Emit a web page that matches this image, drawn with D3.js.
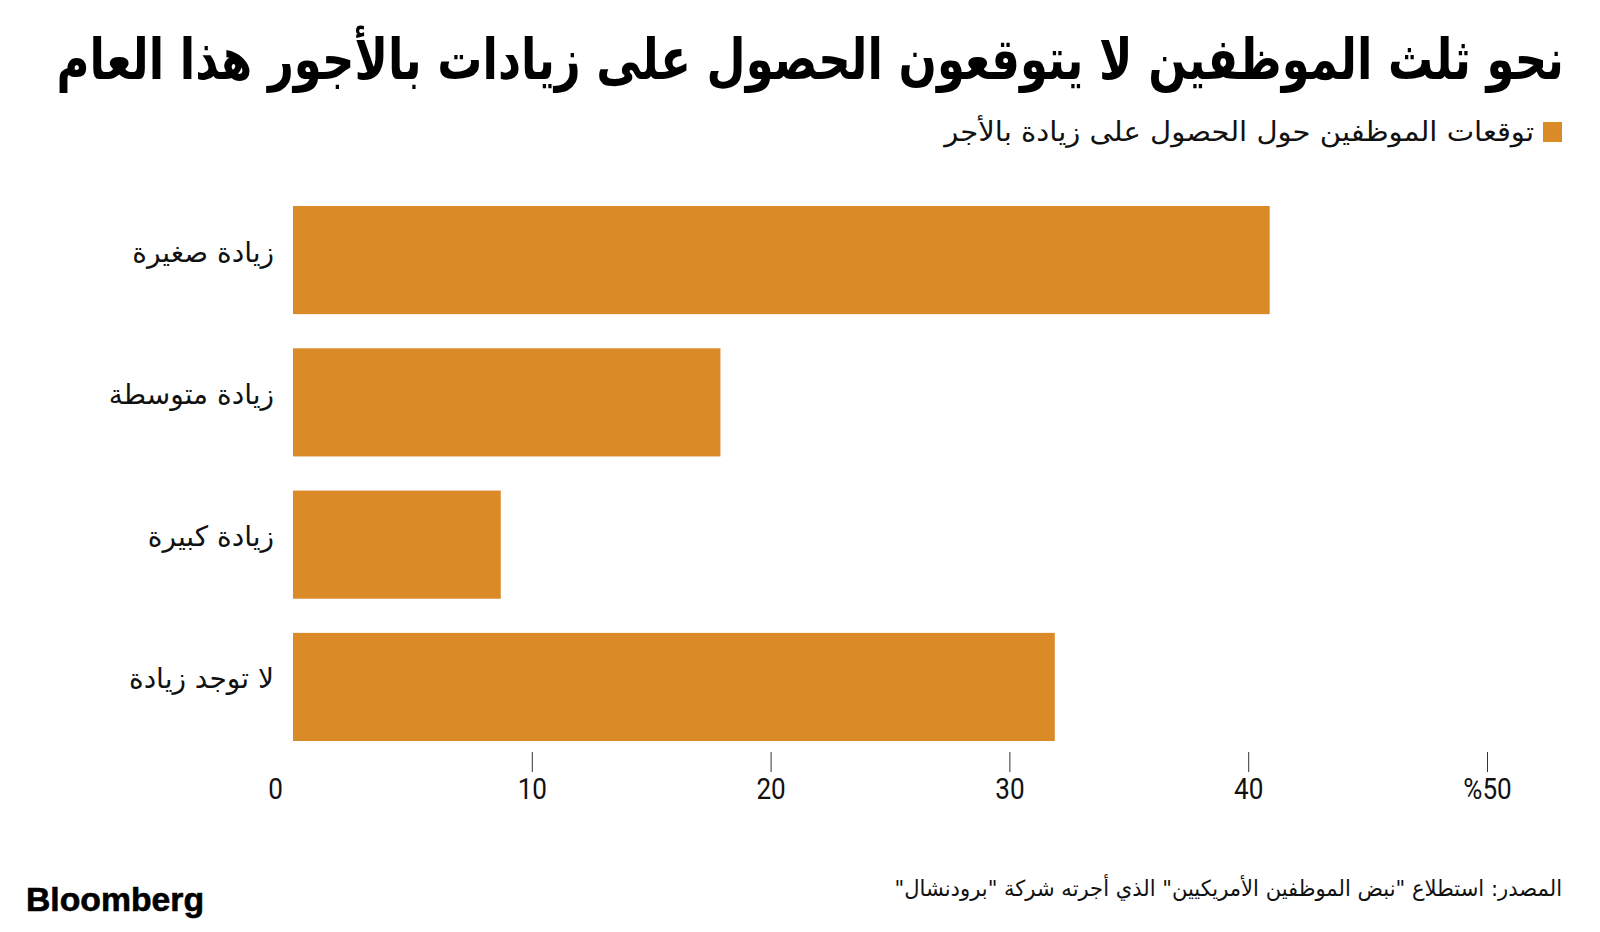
<!DOCTYPE html>
<html><head><meta charset="utf-8">
<script src="https://cdn.jsdelivr.net/npm/d3@7"></script>
<style>
html,body{margin:0;padding:0;background:#fff;}
svg{display:block;}
</style></head>
<body>
<svg id="chart" width="1600" height="932"></svg>
<script>
const title = "نحو ثلث الموظفين لا يتوقعون الحصول على زيادات بالأجور هذا العام";
const legendLabel = "توقعات الموظفين حول الحصول على زيادة بالأجر";
const source = 'المصدر: استطلاع "نبض الموظفين الأمريكيين" الذي أجرته شركة "برودنشال"';
const categories = ["زيادة صغيرة", "زيادة متوسطة", "زيادة كبيرة", "لا توجد زيادة"];
const values = [40.9, 17.9, 8.7, 31.9];
const tickValues = [0, 10, 20, 30, 40, 50];
const tickLabels = ["0", "10", "20", "30", "40", "%50"];

const RLM = "\u200F";
const svg = d3.select("#chart");
const color = "#da8a26";
const arabicFont = "'DejaVu Sans', 'Noto Sans', sans-serif";

function squeezeTo(sel, target, ax, ay) {
  const w = sel.node().getComputedTextLength();
  const s = target / w;
  sel.attr("transform", `translate(${ax},${ay}) scale(${s},1) translate(${-ax},${-ay})`);
}

// Title
const t = svg.append("text")
  .attr("x", 1564).attr("y", 79)
  .attr("text-anchor", "end")
  .attr("font-family", arabicFont)
  .attr("font-weight", "bold")
  .attr("font-size", 57)
  .attr("fill", "#000")
  .text(RLM + title + RLM);
squeezeTo(t, 1508, 1564, 79);

// Legend
svg.append("rect").attr("x", 1543).attr("y", 122).attr("width", 19).attr("height", 20).attr("fill", color);
const lg = svg.append("text")
  .attr("x", 1534).attr("y", 132)
  .attr("dominant-baseline", "central")
  .attr("text-anchor", "end")
  .attr("font-family", arabicFont)
  .attr("font-size", 27)
  .attr("fill", "#111")
  .text(RLM + legendLabel + RLM);
squeezeTo(lg, 590, 1534, 132);

// Scales
const x = d3.scaleLinear().domain([0, 50]).range([293, 1487]);
const y = d3.scaleBand().domain(categories).range([206, 741]).paddingInner(0.24).paddingOuter(0);

svg.append("g").selectAll("rect")
  .data(categories)
  .join("rect")
  .attr("x", x(0))
  .attr("y", d => y(d))
  .attr("width", (d, i) => x(values[i]) - x(0))
  .attr("height", y.bandwidth())
  .attr("fill", color);

// Category labels
svg.append("g").selectAll("text")
  .data(categories)
  .join("text")
  .attr("x", 274)
  .attr("y", d => y(d) + y.bandwidth() / 2 - 8)
  .attr("dominant-baseline", "central")
  .attr("text-anchor", "end")
  .attr("font-family", arabicFont)
  .attr("font-size", 28)
  .attr("fill", "#111")
  .text(d => RLM + d + RLM);

// X axis
const axis = d3.axisBottom(x)
  .tickValues(tickValues)
  .tickSize(20)
  .tickFormat((d, i) => tickLabels[i]);
const ag = svg.append("g").attr("transform", "translate(0,752)").call(axis);
ag.select(".domain").remove();
ag.selectAll(".tick line").attr("stroke", "#333").attr("stroke-width", 1);
ag.selectAll(".tick").filter(d => d === 0).select("line").remove();
ag.selectAll(".tick text")
  .attr("y", 37)
  .attr("dy", "0.35em")
  .attr("font-family", "Roboto, 'Liberation Sans', sans-serif")
  .attr("font-size", 29)
  .attr("fill", "#111")
  .attr("transform", d => d === 0 ? "translate(-18,0) scale(0.9,1)" : "scale(0.9,1)");

// Footer
svg.append("text")
  .attr("x", 26).attr("y", 911)
  .attr("font-family", "'Liberation Sans', Arial, sans-serif")
  .attr("font-weight", "bold")
  .attr("font-size", 33)
  .attr("textLength", 178)
  .attr("lengthAdjust", "spacingAndGlyphs")
  .attr("fill", "#000")
  .attr("stroke", "#000")
  .attr("stroke-width", 0.6)
  .text("Bloomberg");

const src = svg.append("text")
  .attr("x", 1562).attr("y", 888)
  .attr("dominant-baseline", "central")
  .attr("text-anchor", "end")
  .attr("font-family", arabicFont)
  .attr("font-size", 22)
  .attr("fill", "#111")
  .text(RLM + source + RLM);
squeezeTo(src, 668, 1562, 888);
</script>
</body></html>
